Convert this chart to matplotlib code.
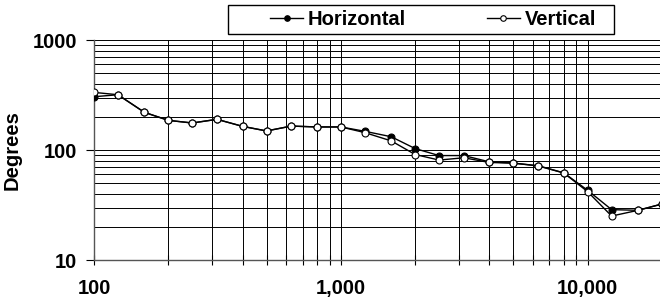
import matplotlib
matplotlib.use("Agg")
import matplotlib.pyplot as plt
from matplotlib.patches import Rectangle
from matplotlib.ticker import FuncFormatter, LogLocator, NullFormatter

freqs = [100, 125, 160, 200, 250, 315, 400, 500, 630, 800, 1000, 1250,
         1600, 2000, 2500, 3150, 4000, 5000, 6300, 8000, 10000, 12500,
         16000, 20000]
horizontal = [305, 318, 220, 186, 176, 190, 164, 149, 165, 162, 162, 148,
              132, 103, 89, 89, 78, 76, 72, 62, 43, 28.7, 28.3, 32.3]
vertical = [334, 318, 220, 186, 176, 190, 164, 149, 165, 162, 162, 144,
            121, 91, 81, 85, 77, 76, 71.6, 61.8, 41.8, 25.1, 28.3, 32.3]

plt.rcParams["font.family"] = ["Liberation Sans", "DejaVu Sans"]
plt.rcParams["font.weight"] = "bold"
FS = 14.5

fig = plt.figure(figsize=(6.6, 3.06), dpi=100)
ax = fig.add_axes([94 / 660, 46 / 306, 568 / 660, 220 / 306])

ax.plot(freqs, horizontal, color="black", lw=1, marker="o", ms=5,
        mfc="black", mec="black", mew=0.8, label="Horizontal", zorder=3)
ax.plot(freqs, vertical, color="black", lw=1, marker="o", ms=5,
        mfc="white", mec="black", mew=0.8, label="Vertical", zorder=4)

ax.set_xscale("log")
ax.set_yscale("log")
ax.set_xlim(100, 20000)
ax.set_ylim(10, 1000)

ax.xaxis.set_major_locator(LogLocator(base=10, numticks=10))
ax.xaxis.set_minor_locator(LogLocator(base=10, subs=range(2, 10), numticks=20))
ax.yaxis.set_major_locator(LogLocator(base=10, numticks=10))
ax.yaxis.set_minor_locator(LogLocator(base=10, subs=range(2, 10), numticks=20))
ax.xaxis.set_major_formatter(FuncFormatter(lambda v, p: f"{v:,.0f}"))
ax.yaxis.set_major_formatter(FuncFormatter(lambda v, p: f"{v:.0f}"))
ax.xaxis.set_minor_formatter(NullFormatter())
ax.yaxis.set_minor_formatter(NullFormatter())

ax.grid(True, which="both", color="black", lw=0.7)
ax.set_axisbelow(True)

for s in ["top", "right"]:
    ax.spines[s].set_visible(False)
for s in ["left", "bottom"]:
    ax.spines[s].set_color("#555555")
    ax.spines[s].set_linewidth(1)

ax.tick_params(axis="x", which="both", direction="inout", length=7,
               width=0.8, color="black", labelsize=FS, pad=10)
ax.tick_params(axis="y", which="major", direction="out", length=6,
               width=0.8, labelsize=FS, pad=6)
ax.tick_params(axis="y", which="minor", length=0)

ax.set_ylabel("Degrees", fontsize=FS, fontweight="bold", labelpad=8)

# legend box and entries
fig.patches.append(Rectangle((228 / 660, 1 - 34 / 306), 386 / 660, 29 / 306,
                             transform=fig.transFigure, fill=False,
                             edgecolor="black", lw=1))
leg = fig.legend(loc="center left", bbox_to_anchor=(270 / 660, 1 - 19.5 / 306),
                 ncol=2, frameon=False, fontsize=FS, borderpad=0,
                 borderaxespad=0, handlelength=1.64, handletextpad=0.25,
                 columnspacing=4.0)
for h in leg.legend_handles:
    h.set_markersize(4)

fig.savefig("out.png", dpi=100)
